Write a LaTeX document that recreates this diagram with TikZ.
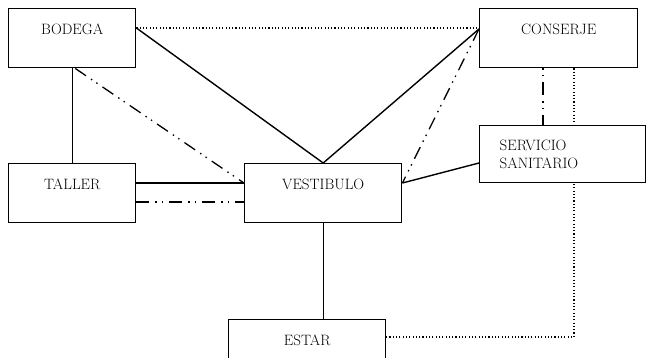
\documentclass[tikz,border=0pt]{standalone}
\usetikzlibrary{backgrounds}
\tikzset{
  room/.style={draw, line width=1.4pt, fill=white, inner xsep=0pt, inner ysep=0pt,
    text height=26pt, text depth=33pt, font=\fontsize{15}{18}\selectfont, anchor=north west},
  link/.style={line width=1.4pt},
  dotline/.style={line width=1.1pt, dash pattern=on 1.1pt off 2.2pt},
  dashdotdot/.style={line width=1.3pt, dash pattern=on 13pt off 6pt on 1.5pt off 5pt on 1.5pt off 6pt}
}
\begin{document}
\begin{tikzpicture}[x=1pt, y=-1pt]
        \useasboundingbox (0,0) rectangle (646,357);
        % Rooms
        \node[room, minimum width=127pt] (bodega) at (8,8) {BODEGA};
        \node[room, minimum width=158pt] (conserje) at (479,8) {CONSERJE};
        \node[room, minimum width=127pt] (taller) at (8,163) {TALLER};
        \node[room, minimum width=157pt] (vestibulo) at (244,163) {VESTIBULO};
        \node[room, minimum width=157pt] (estar) at (228,319) {ESTAR};
        \node[room, text height=, text depth=, minimum height=57pt, text width=126pt,
              inner xsep=20pt, align=left] (servicio) at (479,125) {SERVICIO\\SANITARIO};

        % Solid connections
        \draw[link] ([yshift=-20pt]bodega.north east) -- (vestibulo.north);
        \draw[link] ([yshift=-21pt]conserje.north west) -- (vestibulo.north);
        \draw[link] (bodega.south) -- (taller.north);
        \draw[link] ([yshift=-20pt]taller.north east) -- ([yshift=-20pt]vestibulo.north west);
        \draw[link] ([yshift=-38pt]servicio.north west) -- ([yshift=-20pt]vestibulo.north east);
        \draw[link] (vestibulo.south) -- (vestibulo.south |- estar.north);

        % Dash-dot-dot connections
        \draw[dashdotdot] ([xshift=3pt]bodega.south) -- ([yshift=-20pt]vestibulo.north west);
        \draw[dashdotdot] ([yshift=-39pt]taller.north east) -- ([yshift=-39pt]vestibulo.north west);
        \draw[dashdotdot] ([yshift=-21pt]conserje.north west) -- ([yshift=-20pt]vestibulo.north east);
        \draw[dashdotdot, dash phase=19pt] ([xshift=64pt]conserje.south west) -- ([xshift=64pt]conserje.south west |- servicio.north);

        % Dotted connections
        \draw[dotline] ([yshift=-20pt]bodega.north east) -- ([yshift=-20pt]conserje.north west);
        \begin{scope}[on background layer]
          \draw[dotline] ([xshift=95pt]conserje.south west) |- ([yshift=-18pt]estar.north east);
        \end{scope}
\end{tikzpicture}
\end{document}
